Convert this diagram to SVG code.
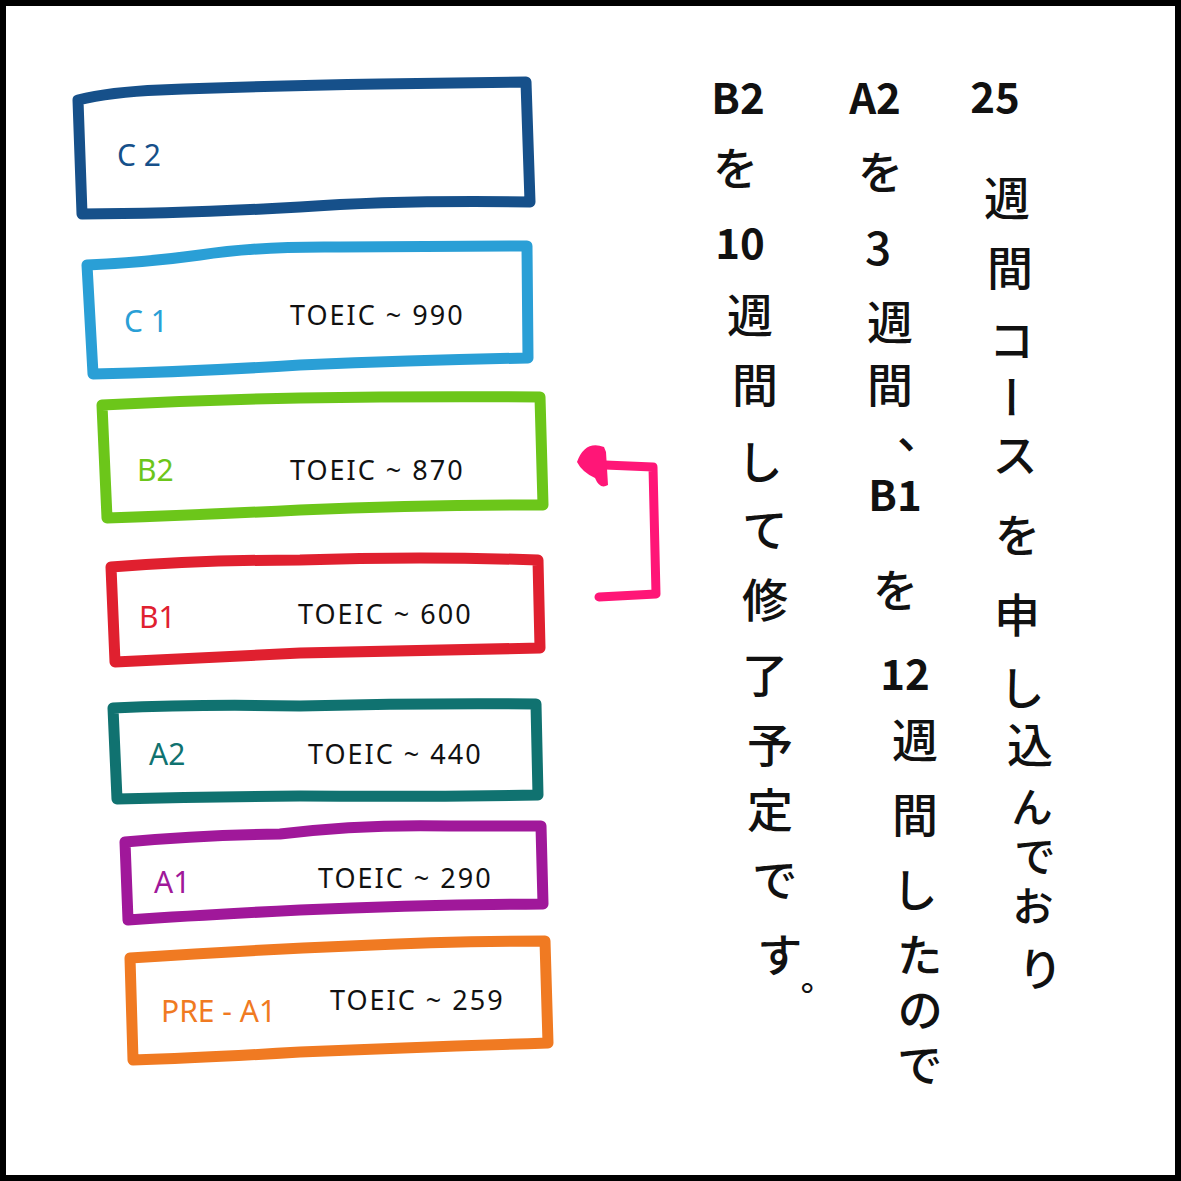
<svg xmlns="http://www.w3.org/2000/svg" width="1181" height="1181" viewBox="0 0 1181 1181">
<style>
.box{fill:none;stroke-width:11;stroke-linejoin:round;stroke-linecap:round}
.lvl{font-family:"Noto Sans","Liberation Sans",sans-serif;font-size:30px}
.toeic{font-family:"Noto Sans","Liberation Sans",sans-serif;font-size:27px;fill:#111;letter-spacing:2px}
.jp{font-family:"Noto Sans CJK JP","Noto Sans",sans-serif;font-size:46px;font-weight:500;fill:#111;text-anchor:middle}
.vt{writing-mode:vertical-rl}
.num{font-size:42px;font-weight:700}
.conn{fill:none;stroke:#ff1677;stroke-width:9;stroke-linecap:round;stroke-linejoin:round}
</style>
<rect x="0" y="0" width="1181" height="1181" fill="#fff"/>
<rect x="3" y="3" width="1175" height="1175" fill="none" stroke="#000" stroke-width="6"/>

<g id="node-c2">
<path class="box" stroke="#16508a" d="M78,100 Q110,92 160,90 Q260,86 380,84 L526,82 L530,202 Q400,200 300,207 Q180,214 82,214 Z"/>
<text class="lvl" x="117" y="166" fill="#16508a">C 2</text>
</g>
<g id="node-c1">
<path class="box" stroke="#2a9fd6" d="M87,265 Q150,262 200,255 Q260,246 340,247 L527,246 L528,358 Q420,360 300,365 Q190,372 93,374 Z"/>
<text class="lvl" x="124" y="332" fill="#2a9fd6">C 1</text>
<text class="toeic" x="290" y="325">TOEIC ~ 990</text>
</g>
<g id="node-b2">
<path class="box" stroke="#6cc61a" d="M102,405 Q200,400 300,398 Q420,396 540,397 L543,505 Q420,505 300,510 Q200,515 107,518 Z"/>
<text class="lvl" x="137" y="481" fill="#6cc61a">B2</text>
<text class="toeic" x="290" y="480">TOEIC ~ 870</text>
</g>
<g id="node-b1">
<path class="box" stroke="#e0202f" d="M111,567 Q200,560 300,560 Q420,556 538,560 L540,648 Q420,650 300,653 Q200,658 115,662 Z"/>
<text class="lvl" x="139" y="628" fill="#e0202f">B1</text>
<text class="toeic" x="298" y="624">TOEIC ~ 600</text>
</g>
<g id="node-a2">
<path class="box" stroke="#107270" d="M113,708 Q200,704 300,706 Q420,703 536,704 L538,795 Q420,797 300,796 Q200,797 117,799 Z"/>
<text class="lvl" x="149" y="765" fill="#107270">A2</text>
<text class="toeic" x="308" y="764">TOEIC ~ 440</text>
</g>
<g id="node-a1">
<path class="box" stroke="#a0189a" d="M125,842 Q200,835 280,834 Q360,824 450,826 L541,826 L543,904 Q420,905 300,910 Q200,915 128,920 Z"/>
<text class="lvl" x="154" y="893" fill="#a0189a">A1</text>
<text class="toeic" x="318" y="888">TOEIC ~ 290</text>
</g>
<g id="node-pre-a1">
<path class="box" stroke="#f07a22" d="M130,958 Q250,950 350,946 Q450,941 545,941 L548,1043 Q420,1047 300,1052 Q200,1058 133,1060 Z"/>
<text class="lvl" x="161" y="1022" fill="#f07a22" font-size="27">PRE - A1</text>
<text class="toeic" x="330" y="1010">TOEIC ~ 259</text>
</g>

<g id="connectors">
<path class="conn" d="M599,597 L656,594 L653,467 L605,465"/>
<path d="M577,462 Q585,440 604,447 L606,452 L608,485 Q600,490 595,478 Q582,472 577,462 Z" fill="#ff1677"/>
</g>

<g id="note">
<text class="jp num" x="995" y="113">25</text>
<text class="jp vt"><tspan x="1007" y="198">週</tspan><tspan x="1010" y="268">間</tspan><tspan x="1012" y="340">コ</tspan><tspan x="1012" y="398">ー</tspan><tspan x="1015" y="455">ス</tspan><tspan x="1017" y="535">を</tspan><tspan x="1017" y="615">申</tspan><tspan x="1022" y="688">し</tspan><tspan x="1030" y="745">込</tspan><tspan x="1032" y="807" font-size="42">ん</tspan><tspan x="1035" y="856" font-size="42">で</tspan><tspan x="1033" y="906" font-size="42">お</tspan><tspan x="1040" y="969">り</tspan></text>

<text class="jp num" x="875" y="114">A2</text>
<text class="jp vt"><tspan x="880" y="172">を</tspan></text>
<text class="jp" x="878" y="265">3</text>
<text class="jp vt"><tspan x="890" y="322">週</tspan><tspan x="890" y="385">間</tspan></text>
<text class="jp" x="920" y="448" font-size="30">、</text>
<text class="jp num" x="895" y="511">B1</text>
<text class="jp vt"><tspan x="895" y="590">を</tspan></text>
<text class="jp num" x="905" y="690">12</text>
<text class="jp vt"><tspan x="915" y="740">週</tspan><tspan x="915" y="815">間</tspan><tspan x="915" y="890">し</tspan><tspan x="920" y="955">た</tspan><tspan x="920" y="1010">の</tspan><tspan x="920" y="1065">で</tspan></text>

<text class="jp num" x="738" y="114">B2</text>
<text class="jp vt"><tspan x="735" y="168">を</tspan></text>
<text class="jp num" x="740" y="259">10</text>
<text class="jp vt"><tspan x="750" y="315">週</tspan><tspan x="755" y="385">間</tspan><tspan x="760" y="462">し</tspan><tspan x="765" y="530">て</tspan><tspan x="765" y="600">修</tspan><tspan x="765" y="675">了</tspan><tspan x="770" y="745">予</tspan><tspan x="770" y="810">定</tspan><tspan x="775" y="880">で</tspan><tspan x="780" y="955">す</tspan><tspan x="797" y="998" font-size="34">。</tspan></text>
</g>
</svg>
